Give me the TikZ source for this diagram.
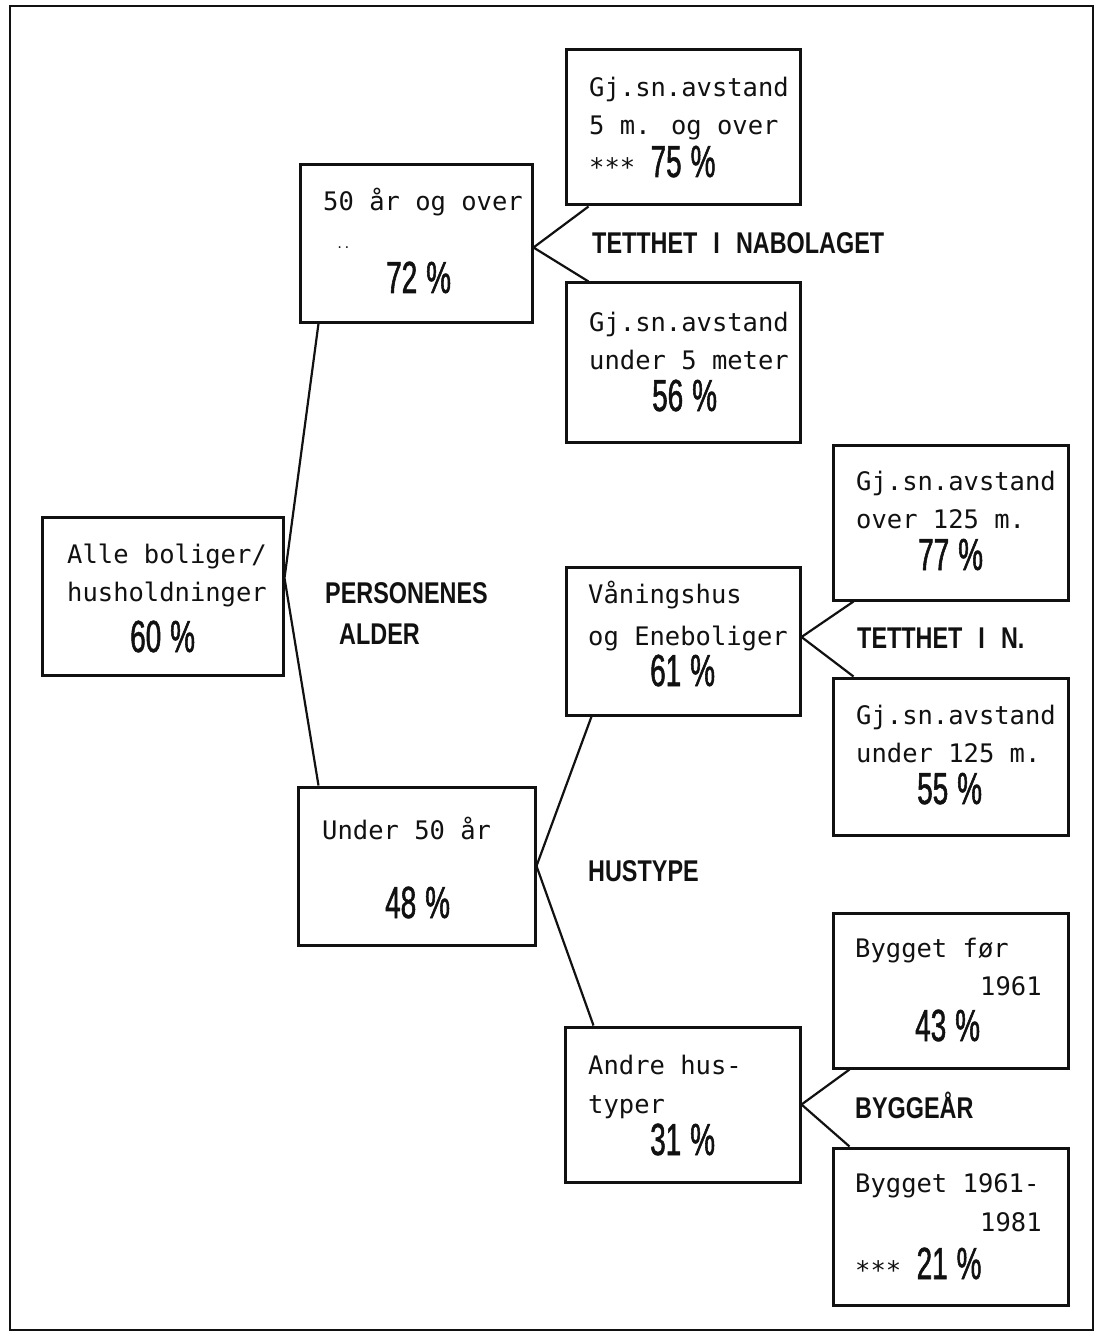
\documentclass[tikz,border=0pt]{standalone}
\usepackage{fontspec}
\usepackage{xcolor}
\usepackage{tikz}
\usetikzlibrary{calc}
\setmainfont{DejaVu Sans Mono}
\newfontfamily\pctfont{Liberation Sans}[FakeStretch=0.62, FakeBold=1.2]
\newfontfamily\headfont{Liberation Sans}[FakeStretch=0.78]
\definecolor{ink}{HTML}{111111}
\newcommand\pcttext[1]{{\pctfont\fontsize{45}{48}\selectfont #1\hspace{9pt}\%}}
\tikzset{
  frame/.style={draw=ink, line width=2.8pt},
  box/.style={draw=ink, line width=3pt, inner sep=0pt},
  sbox/.style={box, minimum width=235pt, minimum height=156pt},
  link/.style={draw=ink, line width=2.2pt},
  txt/.style={anchor=base west, inner sep=0pt, text=ink, font=\fontsize{25.5}{30}\selectfont},
  head/.style={anchor=base west, inner sep=0pt, text=ink, font=\headfont\bfseries\fontsize{30}{34}\selectfont}
}

\begin{document}
\begin{tikzpicture}[x=1pt, y=-1pt]
  \useasboundingbox (0,0) rectangle (1099,1337);
  \draw[frame] (10,6) rectangle (1093,1330);

  % boxes
  \node[box, minimum width=241pt, minimum height=158pt] (root) at (162.5,596) {};
  \node[box, minimum width=232pt, minimum height=157pt] (old) at (416,243.5) {};
  \node[box, minimum width=237pt, minimum height=158pt] (young) at (416.5,866) {};
  \node[sbox, minimum width=234pt, minimum height=155pt] (far) at (683,127.5) {};
  \node[sbox, minimum width=234pt, minimum height=159pt] (near) at (683,362.5) {};
  \node[sbox, minimum width=234pt, minimum height=148pt] (villa) at (683,641) {};
  \node[sbox, minimum height=155pt] (other) at (682.5,1104.5) {};
  \node[sbox, minimum height=155pt] (vfar) at (950.5,522.5) {};
  \node[sbox, minimum height=157pt] (vnear) at (950.5,756.5) {};
  \node[sbox, minimum height=155pt] (oldb) at (950.5,990.5) {};
  \node[sbox, minimum height=157pt] (newb) at (950.5,1226.5) {};

  % connectors
  \draw[link] ([xshift=20pt]old.south west) -- ([yshift=18pt]root.east) -- ([xshift=22pt]young.north west);
  \draw[link] ([xshift=24pt]far.south west) -- ([yshift=-4pt]old.east) -- ([xshift=24pt]near.north west);
  \draw[link] ([xshift=27pt]villa.south west) -- (young.east) -- ([xshift=30pt]other.north west);
  \draw[link] ([xshift=22pt]vfar.south west) -- ([yshift=4pt]villa.east) -- ([xshift=22pt]vnear.north west);
  \draw[link] ([xshift=18pt]oldb.south west) -- (other.east) -- ([xshift=18pt]newb.north west);

  % texts
  \node[txt] (root1) at (67,563) {Alle boliger/};
  \node[txt] (root2) at (67,601) {husholdninger};
  \node[txt] (rootp) at (130,652) {\pcttext{60}};

  \node[txt] (old1) at (323,211) {50 år og over};
  \node[txt, font=\fontsize{12}{12}\selectfont] (olddots) at (336,249) {..};
  \node[txt] (oldp) at (386,293) {\pcttext{72}};

  \node[txt] (far1) at (589,97) {Gj.sn.avstand};
  \node[txt] (far2) at (589,135) {5 m. og over};
  \node[txt] (farp) at (589,177) {*** \pcttext{75}};

  \node[txt] (near1) at (589,331) {Gj.sn.avstand};
  \node[txt] (near2) at (589,369) {under 5 meter};
  \node[txt] (nearp) at (652,411) {\pcttext{56}};

  \node[txt] (young1) at (322,839) {Under 50 år};
  \node[txt] (youngp) at (385,918) {\pcttext{48}};

  \node[txt] (villa1) at (588,603) {Våningshus};
  \node[txt] (villa2) at (588,645) {og Eneboliger};
  \node[txt] (villap) at (650,686) {\pcttext{61}};

  \node[txt] (vfar1) at (856,490) {Gj.sn.avstand};
  \node[txt] (vfar2) at (856,528) {over 125 m.};
  \node[txt] (vfarp) at (918,570) {\pcttext{77}};

  \node[txt] (vnear1) at (856,724) {Gj.sn.avstand};
  \node[txt] (vnear2) at (856,762) {under 125 m.};
  \node[txt] (vnearp) at (917,804) {\pcttext{55}};

  \node[txt] (other1) at (588,1074) {Andre hus-};
  \node[txt] (other2) at (588,1113) {typer};
  \node[txt] (otherp) at (650,1155) {\pcttext{31}};

  \node[txt] (oldb1) at (855,957) {Bygget før};
  \node[txt] (oldb2) at (980,995) {1961};
  \node[txt] (oldbp) at (915,1041) {\pcttext{43}};

  \node[txt] (newb1) at (855,1192) {Bygget 1961-};
  \node[txt] (newb2) at (980,1231) {1981};
  \node[txt] (newbp) at (855,1279) {*** \pcttext{21}};

  % headings
  \node[head] (age1) at (325,603) {PERSONENES};
  \node[head] (age2) at (339,644) {ALDER};
  \node[head] (dens1) at (592,254) {TETTHET\hspace{16pt}I\hspace{16pt}NABOLAGET};
  \node[head] (dens2) at (857,648) {TETTHET\hspace{16pt}I\hspace{16pt}N.};
  \node[head] (type) at (588,881) {HUSTYPE};
  \node[head] (year) at (855,1118) {BYGGEÅR};
\end{tikzpicture}
\end{document}
